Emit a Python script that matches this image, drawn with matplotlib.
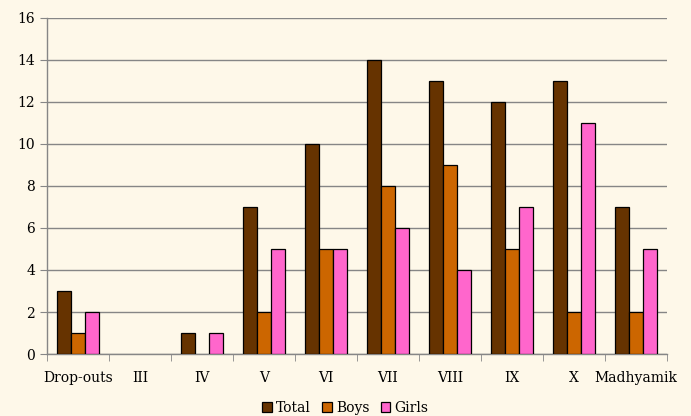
import matplotlib
matplotlib.use("Agg")
import matplotlib.pyplot as plt
import numpy as np

categories = ["Drop-outs", "III", "IV", "V", "VI", "VII", "VIII", "IX", "X", "Madhyamik"]
total = [3, 0, 1, 7, 10, 14, 13, 12, 13, 7]
boys = [1, 0, 0, 2, 5, 8, 9, 5, 2, 2]
girls = [2, 0, 1, 5, 5, 6, 4, 7, 11, 5]
series_names = ["Total", "Boys", "Girls"]
colors = ["#663300", "#CC6600", "#FF66CC"]

bg = "#FEF8E9"
plt.rcParams['font.family'] = ['DejaVu Serif']

fig = plt.figure(figsize=(6.91, 4.16), dpi=100, facecolor=bg)
ax = fig.add_axes([0.068, 0.149, 0.897, 0.808], facecolor=bg)

x = np.arange(len(categories))
w = 0.226
for i, (vals, name, c) in enumerate(zip([total, boys, girls], series_names, colors)):
    lw = [0.9 if v > 0 else 0 for v in vals]
    ax.bar(x + (i - 1) * w, vals, width=w, color=c, edgecolor="black", linewidth=lw,
           label=name, zorder=3)

ax.set_xlim(-0.5, len(categories) - 0.5)
ax.set_ylim(0, 16)
ax.set_yticks(range(0, 17, 2))
ax.yaxis.grid(True, color="#868686", linewidth=1.0, zorder=0)
ax.set_xticks(x)
ax.set_xticklabels(categories, fontsize=10)
ax.set_xticks(np.arange(-0.5, len(categories), 1), minor=True)
ax.tick_params(axis="x", which="major", length=0, pad=12)
ax.tick_params(axis="x", which="minor", length=5, color="#868686", direction="out")
ax.tick_params(axis="y", length=5, color="#868686", labelsize=10)
for s in ["top", "right"]:
    ax.spines[s].set_visible(False)
for s in ["left", "bottom"]:
    ax.spines[s].set_color("#868686")
    ax.spines[s].set_linewidth(1.0)

handles, labels = ax.get_legend_handles_labels()
leg = fig.legend(handles, labels, loc="lower center", bbox_to_anchor=(0.5, -0.027), ncol=3,
                 frameon=False, fontsize=10, handlelength=0.7, handleheight=0.7,
                 handletextpad=0.3, columnspacing=0.8)
for h in leg.legend_handles:
    h.set_linewidth(0.9)
    h.set_edgecolor("black")

fig.savefig("out.png", dpi=100, facecolor=bg)
